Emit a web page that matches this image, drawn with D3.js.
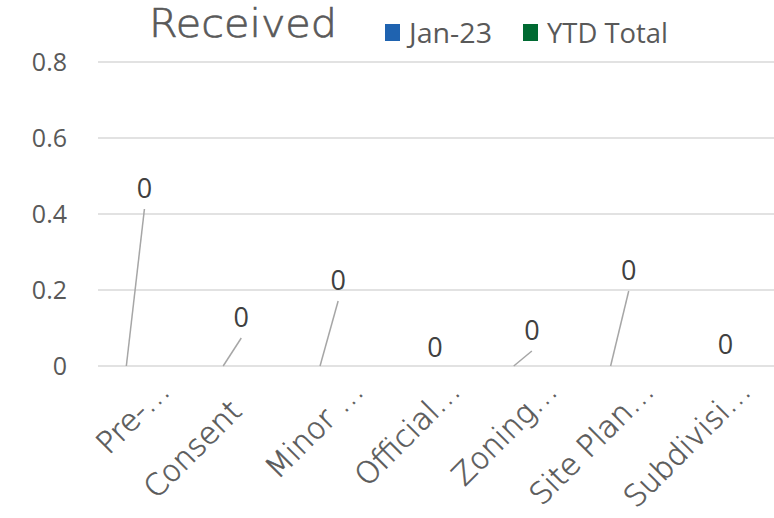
<!DOCTYPE html>
<html>
<head>
<meta charset="utf-8">
<script src="https://cdn.jsdelivr.net/npm/d3@7"></script>
<style>
  body { margin: 0; background: #fff; }
  svg { display: block; }
</style>
</head>
<body>
<div id="chart"></div>
<script>
// chart data
var categories = ["Pre-…", "Consent", "Minor …", "Official…", "Zoning…", "Site Plan…", "Subdivisi…"];
var series = ["Jan-23", "YTD Total"];
var jan23 = [0, 0, 0, 0, 0, 0, 0];
var ytdTotal = [0, 0, 0, 0, 0, 0, 0];
var yTicks = [0, 0.2, 0.4, 0.6, 0.8];

// label placement (dragged by hand in the original), px above the axis
var labelLift = [178, 49, 86, 19, 36, 96, 22];

var colors = { "Jan-23": "#1F63B0", "YTD Total": "#006A32" };

var width = 774, height = 518;
var margin = { top: 62, right: 0, bottom: 152, left: 98 };

var svg = d3.select("#chart").append("svg")
    .attr("width", width)
    .attr("height", height);

var x0 = d3.scaleBand()
    .domain(categories)
    .range([margin.left, width + 2])
    .paddingInner(0.17)
    .paddingOuter(0.085);

var x1 = d3.scaleBand()
    .domain(series)
    .range([0, x0.bandwidth()]);

var y = d3.scaleLinear()
    .domain([0, 0.8])
    .range([height - margin.bottom, margin.top]);

// gridlines
svg.append("g")
    .selectAll("line")
    .data(yTicks)
    .enter().append("line")
    .attr("x1", margin.left)
    .attr("x2", width)
    .attr("y1", d => y(d))
    .attr("y2", d => y(d))
    .attr("stroke", "#D9D9D9")
    .attr("stroke-width", 1.5);

// y axis labels
var yAxis = d3.axisLeft(y).tickValues(yTicks).tickSize(0).tickPadding(0)
    .tickFormat(d => d3.format("~g")(d));
var gy = svg.append("g")
    .attr("transform", "translate(67,0)")
    .call(yAxis);
gy.select(".domain").remove();
gy.selectAll("text")
    .attr("font-family", "'Open Sans', sans-serif")
    .attr("font-size", 25)
    .attr("fill", "#595959")
    .attr("dy", "0.35em");

// bars (all zero)
var rows = categories.map((c, i) => ({ cat: c, i: i, values: [jan23[i], ytdTotal[i]] }));

var groups = svg.append("g").selectAll("g")
    .data(rows)
    .enter().append("g")
    .attr("transform", d => "translate(" + x0(d.cat) + ",0)");

groups.selectAll("rect")
    .data(d => series.map((s, k) => ({ s: s, v: d.values[k] })))
    .enter().append("rect")
    .attr("x", d => x1(d.s))
    .attr("width", x1.bandwidth())
    .attr("y", d => y(d.v))
    .attr("height", d => y(0) - y(d.v))
    .attr("fill", d => colors[d.s]);

// data labels for Jan-23 with leader lines
var labels = svg.append("g");
rows.forEach(function (d) {
    var barX = x0(d.cat) + x1("Jan-23") + x1.bandwidth() / 2;
    var barY = y(jan23[d.i]);
    var lx = x0(d.cat) + x0.bandwidth() / 2 - 2;
    var ly = barY - labelLift[d.i];
    if (labelLift[d.i] > 30) {
        labels.append("line")
            .attr("x1", barX)
            .attr("y1", barY)
            .attr("x2", lx)
            .attr("y2", ly + 21)
            .attr("stroke", "#A6A6A6")
            .attr("stroke-width", 1.5);
    }
    labels.append("text")
        .attr("x", lx)
        .attr("y", ly)
        .attr("dy", "0.36em")
        .attr("text-anchor", "middle")
        .attr("font-family", "'Open Sans', sans-serif")
        .attr("font-size", 27)
        .attr("fill", "#404040")
        .text(d3.format("~g")(jan23[d.i]));
});

// x axis labels, rotated
var xAxis = d3.axisBottom(x0).tickSize(0).tickPadding(0);
var gx = svg.append("g")
    .attr("transform", "translate(0," + y(0) + ")")
    .call(xAxis);
gx.select(".domain").remove();
gx.selectAll(".tick text")
    .attr("text-anchor", "end")
    .attr("font-family", "'DejaVu Sans', sans-serif")
    .attr("font-weight", 200)
    .attr("font-size", 30)
    .attr("fill", "#595959")
    .attr("stroke", "#595959")
    .attr("stroke-width", 0.6)
    .attr("y", 0)
    .attr("dy", 0)
    .attr("transform", function (d) {
        var e = d.endsWith("…");
        return "translate(" + (e ? 25 : 0) + "," + (e ? 27 : 47) + ") rotate(-45)";
    });

// title
svg.append("text")
    .attr("x", 149)
    .attr("y", 37)
    .attr("font-family", "'DejaVu Sans', sans-serif")
    .attr("font-weight", 200)
    .attr("font-size", 39)
    .attr("fill", "#595959")
    .attr("stroke", "#595959")
    .attr("stroke-width", 0.7)
    .attr("textLength", 188)
    .attr("lengthAdjust", "spacingAndGlyphs")
    .text("Received");

// legend
var legendX = [385, 523];
var textW = [83, 121];
var lg = svg.append("g").selectAll("g")
    .data(series)
    .enter().append("g")
    .attr("transform", (d, i) => "translate(" + legendX[i] + ",0)");
lg.append("rect")
    .attr("x", 0)
    .attr("y", 24)
    .attr("width", 15)
    .attr("height", 17)
    .attr("fill", d => colors[d]);
lg.append("text")
    .attr("x", 24)
    .attr("y", 43)
    .attr("font-family", "'Open Sans', sans-serif")
    .attr("font-size", 27)
    .attr("fill", "#595959")
    .attr("textLength", (d, i) => textW[i])
    .attr("lengthAdjust", "spacingAndGlyphs")
    .text(d => d);
</script>
</body>
</html>
